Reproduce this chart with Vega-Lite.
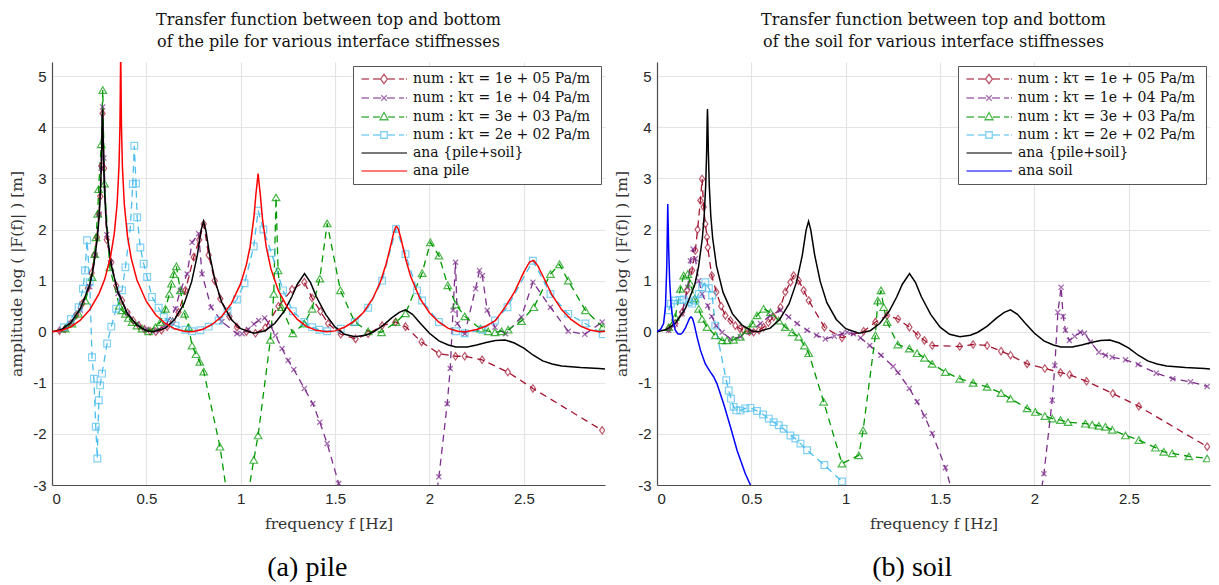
{
"$schema": "https://vega.github.io/schema/vega-lite/v6.json",
"background": "white",
"padding": {"left": 9, "right": 2, "top": 12, "bottom": 0},
"spacing": 9,
"config": {
  "view": {"stroke": null},
  "font": "DejaVu Serif",
  "axis": {"grid": true, "gridColor": "#e4e4e4", "gridWidth": 1.2, "domainColor": "#4d4d4d", "domainWidth": 1.2, "ticks": false, "labelFont": "Liberation Sans", "labelFontSize": 15, "labelColor": "#262626", "labelPadding": 6, "titleFont": "DejaVu Serif", "titleFontSize": 15.5, "titleFontWeight": "normal", "titleColor": "#333"},
  "title": {"font": "DejaVu Serif", "fontSize": 16, "fontWeight": "normal", "color": "#111", "lineHeight": 22, "offset": 12},
  "legend": {"padding": 6, "offset": 4, "fillColor": "white", "strokeColor": "#555", "cornerRadius": 0, "labelFont": "DejaVu Serif", "labelFontSize": 14, "labelLimit": 400, "labelColor": "#111", "rowPadding": 4, "symbolSize": 100, "symbolOffset": 18, "labelOffset": 22, "symbolStrokeWidth": 1.3, "symbolFillColor": "transparent"}
},
"resolve": {"scale": {"color": "independent", "shape": "independent"}, "legend": {"color": "independent", "shape": "independent"}},
"datasets": {
"pile": [
{"s":"k1","f":0.04,"v":0.02},{"s":"k1","f":0.07,"v":0.06},{"s":"k1","f":0.1,"v":0.16},{"s":"k1","f":0.13,"v":0.33},{"s":"k1","f":0.16,"v":0.55},{"s":"k1","f":0.19,"v":0.85},{"s":"k1","f":0.21,"v":1.15},{"s":"k1","f":0.225,"v":1.5},{"s":"k1","f":0.238,"v":1.85},{"s":"k1","f":0.248,"v":2.3},{"s":"k1","f":0.256,"v":2.65},{"s":"k1","f":0.262,"v":3.25},{"s":"k1","f":0.268,"v":4.27},{"s":"k1","f":0.276,"v":3.2},{"s":"k1","f":0.29,"v":1.8},{"s":"k1","f":0.314,"v":1.36},{"s":"k1","f":0.34,"v":0.9},{"s":"k1","f":0.371,"v":0.61},{"s":"k1","f":0.4,"v":0.37},{"s":"k1","f":0.43,"v":0.22},{"s":"k1","f":0.46,"v":0.12},{"s":"k1","f":0.49,"v":0.05},{"s":"k1","f":0.52,"v":0.01},{"s":"k1","f":0.55,"v":0.0},{"s":"k1","f":0.58,"v":0.03},{"s":"k1","f":0.61,"v":0.1},{"s":"k1","f":0.64,"v":0.2},{"s":"k1","f":0.67,"v":0.38},{"s":"k1","f":0.707,"v":0.81},{"s":"k1","f":0.751,"v":1.46},{"s":"k1","f":0.78,"v":1.8},{"s":"k1","f":0.804,"v":2.11},{"s":"k1","f":0.83,"v":1.5},{"s":"k1","f":0.862,"v":1.0},{"s":"k1","f":0.892,"v":0.645},{"s":"k1","f":0.94,"v":0.3},{"s":"k1","f":0.98,"v":0.09},{"s":"k1","f":1.03,"v":0.0},{"s":"k1","f":1.078,"v":-0.03},{"s":"k1","f":1.13,"v":0.08},{"s":"k1","f":1.2,"v":0.5},{"s":"k1","f":1.272,"v":0.83},{"s":"k1","f":1.337,"v":0.97},{"s":"k1","f":1.378,"v":0.66},{"s":"k1","f":1.422,"v":0.4},{"s":"k1","f":1.463,"v":0.16},{"s":"k1","f":1.53,"v":-0.05},{"s":"k1","f":1.608,"v":-0.14},{"s":"k1","f":1.675,"v":-0.04},{"s":"k1","f":1.749,"v":0.12},{"s":"k1","f":1.82,"v":0.19},{"s":"k1","f":1.873,"v":0.1},{"s":"k1","f":1.958,"v":-0.2},{"s":"k1","f":2.05,"v":-0.43},{"s":"k1","f":2.138,"v":-0.48},{"s":"k1","f":2.187,"v":-0.48},{"s":"k1","f":2.279,"v":-0.55},{"s":"k1","f":2.415,"v":-0.79},{"s":"k1","f":2.548,"v":-1.11},{"s":"k1","f":2.915,"v":-1.93},
{"s":"k2","f":0.05,"v":0.03},{"s":"k2","f":0.1,"v":0.16},{"s":"k2","f":0.15,"v":0.42},{"s":"k2","f":0.2,"v":0.88},{"s":"k2","f":0.23,"v":1.5},{"s":"k2","f":0.25,"v":2.3},{"s":"k2","f":0.26,"v":3.2},{"s":"k2","f":0.268,"v":4.4},{"s":"k2","f":0.275,"v":3.4},{"s":"k2","f":0.29,"v":1.9},{"s":"k2","f":0.31,"v":1.35},{"s":"k2","f":0.35,"v":0.75},{"s":"k2","f":0.4,"v":0.36},{"s":"k2","f":0.45,"v":0.15},{"s":"k2","f":0.5,"v":0.05},{"s":"k2","f":0.55,"v":0.02},{"s":"k2","f":0.6,"v":0.12},{"s":"k2","f":0.654,"v":0.45},{"s":"k2","f":0.68,"v":0.81},{"s":"k2","f":0.716,"v":1.13},{"s":"k2","f":0.742,"v":1.75},{"s":"k2","f":0.777,"v":1.92},{"s":"k2","f":0.795,"v":1.13},{"s":"k2","f":0.843,"v":0.48},{"s":"k2","f":0.9,"v":0.2},{"s":"k2","f":0.98,"v":-0.04},{"s":"k2","f":1.007,"v":-0.04},{"s":"k2","f":1.04,"v":0.05},{"s":"k2","f":1.07,"v":0.15},{"s":"k2","f":1.095,"v":0.22},{"s":"k2","f":1.127,"v":0.27},{"s":"k2","f":1.157,"v":0.12},{"s":"k2","f":1.184,"v":-0.07},{"s":"k2","f":1.219,"v":-0.33},{"s":"k2","f":1.251,"v":-0.56},{"s":"k2","f":1.281,"v":-0.74},{"s":"k2","f":1.337,"v":-1.11},{"s":"k2","f":1.382,"v":-1.41},{"s":"k2","f":1.419,"v":-1.77},{"s":"k2","f":1.458,"v":-2.19},{"s":"k2","f":1.519,"v":-2.97},{"s":"k2","f":1.6,"v":-4.0},{"s":"k2","f":2.0,"v":-4.2},{"s":"k2","f":2.05,"v":-2.84},{"s":"k2","f":2.094,"v":-1.41},{"s":"k2","f":2.11,"v":-0.72},{"s":"k2","f":2.125,"v":0.42},{"s":"k2","f":2.138,"v":1.36},{"s":"k2","f":2.148,"v":0.16},{"s":"k2","f":2.187,"v":-0.04},{"s":"k2","f":2.244,"v":0.84},{"s":"k2","f":2.265,"v":1.2},{"s":"k2","f":2.28,"v":1.1},{"s":"k2","f":2.306,"v":0.42},{"s":"k2","f":2.347,"v":0.09},{"s":"k2","f":2.403,"v":-0.04},{"s":"k2","f":2.487,"v":0.29},{"s":"k2","f":2.548,"v":0.97},{"s":"k2","f":2.641,"v":0.48},{"s":"k2","f":2.735,"v":0.01},{"s":"k2","f":2.823,"v":-0.05},{"s":"k2","f":2.915,"v":0.19},
{"s":"k3","f":0.07,"v":0.06},{"s":"k3","f":0.106,"v":0.16},{"s":"k3","f":0.141,"v":0.35},{"s":"k3","f":0.177,"v":0.61},{"s":"k3","f":0.212,"v":1.07},{"s":"k3","f":0.226,"v":1.52},{"s":"k3","f":0.233,"v":1.85},{"s":"k3","f":0.242,"v":2.31},{"s":"k3","f":0.247,"v":2.79},{"s":"k3","f":0.261,"v":3.67},{"s":"k3","f":0.269,"v":4.73},{"s":"k3","f":0.278,"v":2.9},{"s":"k3","f":0.306,"v":1.26},{"s":"k3","f":0.357,"v":0.51},{"s":"k3","f":0.37,"v":0.42},{"s":"k3","f":0.389,"v":0.35},{"s":"k3","f":0.405,"v":0.27},{"s":"k3","f":0.424,"v":0.19},{"s":"k3","f":0.45,"v":0.12},{"s":"k3","f":0.477,"v":0.06},{"s":"k3","f":0.512,"v":0.01},{"s":"k3","f":0.548,"v":0.09},{"s":"k3","f":0.574,"v":0.19},{"s":"k3","f":0.601,"v":0.45},{"s":"k3","f":0.622,"v":0.74},{"s":"k3","f":0.633,"v":0.94},{"s":"k3","f":0.645,"v":1.13},{"s":"k3","f":0.659,"v":1.28},{"s":"k3","f":0.68,"v":0.81},{"s":"k3","f":0.703,"v":0.35},{"s":"k3","f":0.724,"v":0.09},{"s":"k3","f":0.742,"v":-0.27},{"s":"k3","f":0.763,"v":-0.44},{"s":"k3","f":0.783,"v":-0.59},{"s":"k3","f":0.804,"v":-0.78},{"s":"k3","f":0.89,"v":-2.25},{"s":"k3","f":0.98,"v":-4.5},{"s":"k3","f":1.069,"v":-2.51},{"s":"k3","f":1.092,"v":-2.03},{"s":"k3","f":1.157,"v":-0.16},{"s":"k3","f":1.175,"v":0.74},{"s":"k3","f":1.187,"v":2.63},{"s":"k3","f":1.198,"v":1.2},{"s":"k3","f":1.216,"v":0.48},{"s":"k3","f":1.276,"v":-0.03},{"s":"k3","f":1.337,"v":0.16},{"s":"k3","f":1.378,"v":0.45},{"s":"k3","f":1.419,"v":1.04},{"s":"k3","f":1.458,"v":2.12},{"s":"k3","f":1.528,"v":0.81},{"s":"k3","f":1.604,"v":0.19},{"s":"k3","f":1.675,"v":0.01},{"s":"k3","f":1.746,"v":-0.01},{"s":"k3","f":1.823,"v":0.19},{"s":"k3","f":1.873,"v":0.36},{"s":"k3","f":1.961,"v":1.15},{"s":"k3","f":2.005,"v":1.75},{"s":"k3","f":2.05,"v":1.49},{"s":"k3","f":2.097,"v":0.91},{"s":"k3","f":2.141,"v":0.53},{"s":"k3","f":2.187,"v":0.3},{"s":"k3","f":2.27,"v":0.06},{"s":"k3","f":2.311,"v":0.01},{"s":"k3","f":2.347,"v":-0.01},{"s":"k3","f":2.382,"v":0.01},{"s":"k3","f":2.417,"v":0.04},{"s":"k3","f":2.487,"v":0.21},{"s":"k3","f":2.553,"v":0.48},{"s":"k3","f":2.641,"v":1.13},{"s":"k3","f":2.689,"v":1.32},{"s":"k3","f":2.735,"v":1.0},{"s":"k3","f":2.826,"v":0.42},{"s":"k3","f":2.918,"v":0.09},
{"s":"k4","f":0.062,"v":0.09},{"s":"k4","f":0.1,"v":0.25},{"s":"k4","f":0.141,"v":0.48},{"s":"k4","f":0.164,"v":0.84},{"s":"k4","f":0.175,"v":1.2},{"s":"k4","f":0.186,"v":1.79},{"s":"k4","f":0.2,"v":0.97},{"s":"k4","f":0.212,"v":-0.5},{"s":"k4","f":0.222,"v":-0.92},{"s":"k4","f":0.232,"v":-1.86},{"s":"k4","f":0.24,"v":-2.48},{"s":"k4","f":0.248,"v":-1.34},{"s":"k4","f":0.255,"v":-1.05},{"s":"k4","f":0.265,"v":-0.82},{"s":"k4","f":0.292,"v":-0.23},{"s":"k4","f":0.314,"v":0.1},{"s":"k4","f":0.34,"v":0.45},{"s":"k4","f":0.371,"v":0.81},{"s":"k4","f":0.389,"v":1.26},{"s":"k4","f":0.415,"v":2.05},{"s":"k4","f":0.428,"v":2.89},{"s":"k4","f":0.436,"v":3.64},{"s":"k4","f":0.445,"v":2.9},{"s":"k4","f":0.451,"v":2.24},{"s":"k4","f":0.468,"v":1.65},{"s":"k4","f":0.486,"v":1.33},{"s":"k4","f":0.504,"v":1.07},{"s":"k4","f":0.53,"v":0.68},{"s":"k4","f":0.565,"v":0.47},{"s":"k4","f":0.592,"v":0.29},{"s":"k4","f":0.622,"v":0.19},{"s":"k4","f":0.654,"v":0.12},{"s":"k4","f":0.707,"v":0.04},{"s":"k4","f":0.742,"v":0.01},{"s":"k4","f":0.786,"v":0.03},{"s":"k4","f":0.83,"v":0.1},{"s":"k4","f":0.883,"v":0.22},{"s":"k4","f":0.93,"v":0.4},{"s":"k4","f":0.98,"v":0.63},{"s":"k4","f":1.02,"v":0.95},{"s":"k4","f":1.069,"v":1.67},{"s":"k4","f":1.092,"v":2.37},{"s":"k4","f":1.12,"v":2.0},{"s":"k4","f":1.163,"v":1.54},{"s":"k4","f":1.224,"v":0.81},{"s":"k4","f":1.276,"v":0.4},{"s":"k4","f":1.337,"v":0.19},{"s":"k4","f":1.378,"v":0.09},{"s":"k4","f":1.417,"v":0.04},{"s":"k4","f":1.458,"v":0.01},{"s":"k4","f":1.53,"v":0.06},{"s":"k4","f":1.604,"v":0.19},{"s":"k4","f":1.675,"v":0.47},{"s":"k4","f":1.749,"v":1.0},{"s":"k4","f":1.823,"v":2.01},{"s":"k4","f":1.873,"v":1.52},{"s":"k4","f":1.934,"v":0.81},{"s":"k4","f":1.961,"v":0.61},{"s":"k4","f":2.05,"v":0.19},{"s":"k4","f":2.141,"v":0.01},{"s":"k4","f":2.187,"v":-0.03},{"s":"k4","f":2.279,"v":0.04},{"s":"k4","f":2.347,"v":0.22},{"s":"k4","f":2.413,"v":0.48},{"s":"k4","f":2.548,"v":1.39},{"s":"k4","f":2.641,"v":0.74},{"s":"k4","f":2.735,"v":0.35},{"s":"k4","f":2.826,"v":0.16},{"s":"k4","f":2.918,"v":-0.05},
{"s":"ana","f":0,"v":0},{"s":"ana","f":0.05,"v":0.044},{"s":"ana","f":0.1,"v":0.18},{"s":"ana","f":0.15,"v":0.45},{"s":"ana","f":0.2,"v":0.92},{"s":"ana","f":0.22,"v":1.27},{"s":"ana","f":0.24,"v":1.82},{"s":"ana","f":0.25,"v":2.27},{"s":"ana","f":0.258,"v":2.86},{"s":"ana","f":0.263,"v":3.52},{"s":"ana","f":0.266,"v":4.16},{"s":"ana","f":0.2675,"v":4.36},{"s":"ana","f":0.269,"v":4.16},{"s":"ana","f":0.272,"v":3.53},{"s":"ana","f":0.277,"v":2.86},{"s":"ana","f":0.285,"v":2.27},{"s":"ana","f":0.295,"v":1.83},{"s":"ana","f":0.315,"v":1.29},{"s":"ana","f":0.35,"v":0.77},{"s":"ana","f":0.4,"v":0.35},{"s":"ana","f":0.45,"v":0.13},{"s":"ana","f":0.5,"v":0.02},{"s":"ana","f":0.535,"v":0},{"s":"ana","f":0.6,"v":0.07},{"s":"ana","f":0.65,"v":0.24},{"s":"ana","f":0.7,"v":0.55},{"s":"ana","f":0.74,"v":0.98},{"s":"ana","f":0.77,"v":1.5},{"s":"ana","f":0.79,"v":1.99},{"s":"ana","f":0.803,"v":2.16},{"s":"ana","f":0.815,"v":1.99},{"s":"ana","f":0.835,"v":1.51},{"s":"ana","f":0.865,"v":0.98},{"s":"ana","f":0.9,"v":0.57},{"s":"ana","f":0.95,"v":0.24},{"s":"ana","f":1.0,"v":0.06},{"s":"ana","f":1.07,"v":-0.03},{"s":"ana","f":1.13,"v":0.02},{"s":"ana","f":1.18,"v":0.16},{"s":"ana","f":1.23,"v":0.4},{"s":"ana","f":1.27,"v":0.68},{"s":"ana","f":1.3,"v":0.93},{"s":"ana","f":1.338,"v":1.14},{"s":"ana","f":1.37,"v":0.96},{"s":"ana","f":1.4,"v":0.69},{"s":"ana","f":1.45,"v":0.34},{"s":"ana","f":1.5,"v":0.09},{"s":"ana","f":1.55,"v":-0.05},{"s":"ana","f":1.605,"v":-0.1},{"s":"ana","f":1.66,"v":-0.07},{"s":"ana","f":1.7,"v":-0.01},{"s":"ana","f":1.75,"v":0.11},{"s":"ana","f":1.8,"v":0.27},{"s":"ana","f":1.84,"v":0.38},{"s":"ana","f":1.873,"v":0.43},{"s":"ana","f":1.91,"v":0.34},{"s":"ana","f":1.95,"v":0.17},{"s":"ana","f":2.0,"v":-0.03},{"s":"ana","f":2.05,"v":-0.18},{"s":"ana","f":2.1,"v":-0.26},{"s":"ana","f":2.14,"v":-0.3},{"s":"ana","f":2.2,"v":-0.3},{"s":"ana","f":2.25,"v":-0.26},{"s":"ana","f":2.3,"v":-0.21},{"s":"ana","f":2.35,"v":-0.17},{"s":"ana","f":2.4,"v":-0.16},{"s":"ana","f":2.45,"v":-0.22},{"s":"ana","f":2.5,"v":-0.32},{"s":"ana","f":2.55,"v":-0.46},{"s":"ana","f":2.6,"v":-0.57},{"s":"ana","f":2.65,"v":-0.63},{"s":"ana","f":2.7,"v":-0.67},{"s":"ana","f":2.8,"v":-0.7},{"s":"ana","f":2.9,"v":-0.72},{"s":"ana","f":2.93,"v":-0.73},
{"s":"pile","f":0,"v":0},{"s":"pile","f":0.05,"v":0.023},{"s":"pile","f":0.1,"v":0.096},{"s":"pile","f":0.15,"v":0.226},{"s":"pile","f":0.2,"v":0.431},{"s":"pile","f":0.25,"v":0.752},{"s":"pile","f":0.28,"v":1.036},{"s":"pile","f":0.31,"v":1.466},{"s":"pile","f":0.33,"v":1.921},{"s":"pile","f":0.345,"v":2.5},{"s":"pile","f":0.355,"v":3.24},{"s":"pile","f":0.36,"v":4.01},{"s":"pile","f":0.364,"v":5.5},{"s":"pile","f":0.368,"v":4.03},{"s":"pile","f":0.373,"v":3.24},{"s":"pile","f":0.383,"v":2.5},{"s":"pile","f":0.4,"v":1.866},{"s":"pile","f":0.42,"v":1.431},{"s":"pile","f":0.45,"v":1.014},{"s":"pile","f":0.5,"v":0.593},{"s":"pile","f":0.55,"v":0.329},{"s":"pile","f":0.6,"v":0.162},{"s":"pile","f":0.65,"v":0.057},{"s":"pile","f":0.7,"v":0.008},{"s":"pile","f":0.728,"v":0},{"s":"pile","f":0.75,"v":0.006},{"s":"pile","f":0.8,"v":0.049},{"s":"pile","f":0.85,"v":0.147},{"s":"pile","f":0.9,"v":0.304},{"s":"pile","f":0.95,"v":0.55},{"s":"pile","f":1.0,"v":0.947},{"s":"pile","f":1.03,"v":1.314},{"s":"pile","f":1.05,"v":1.674},{"s":"pile","f":1.07,"v":2.252},{"s":"pile","f":1.08,"v":2.676},{"s":"pile","f":1.092,"v":3.094},{"s":"pile","f":1.104,"v":2.67},{"s":"pile","f":1.115,"v":2.218},{"s":"pile","f":1.135,"v":1.665},{"s":"pile","f":1.16,"v":1.23},{"s":"pile","f":1.2,"v":0.8},{"s":"pile","f":1.25,"v":0.463},{"s":"pile","f":1.3,"v":0.241},{"s":"pile","f":1.35,"v":0.102},{"s":"pile","f":1.4,"v":0.027},{"s":"pile","f":1.456,"v":0},{"s":"pile","f":1.5,"v":0.017},{"s":"pile","f":1.55,"v":0.088},{"s":"pile","f":1.6,"v":0.204},{"s":"pile","f":1.65,"v":0.378},{"s":"pile","f":1.7,"v":0.651},{"s":"pile","f":1.74,"v":0.977},{"s":"pile","f":1.77,"v":1.32},{"s":"pile","f":1.795,"v":1.692},{"s":"pile","f":1.81,"v":1.936},{"s":"pile","f":1.82,"v":2.048},{"s":"pile","f":1.825,"v":2.06},{"s":"pile","f":1.835,"v":2.014},{"s":"pile","f":1.85,"v":1.806},{"s":"pile","f":1.875,"v":1.408},{"s":"pile","f":1.9,"v":1.087},{"s":"pile","f":1.95,"v":0.646},{"s":"pile","f":2.0,"v":0.371},{"s":"pile","f":2.05,"v":0.186},{"s":"pile","f":2.1,"v":0.066},{"s":"pile","f":2.15,"v":0.009},{"s":"pile","f":2.184,"v":0},{"s":"pile","f":2.2,"v":0.003},{"s":"pile","f":2.25,"v":0.043},{"s":"pile","f":2.3,"v":0.112},{"s":"pile","f":2.35,"v":0.219},{"s":"pile","f":2.4,"v":0.476},{"s":"pile","f":2.45,"v":0.775},{"s":"pile","f":2.5,"v":1.168},{"s":"pile","f":2.53,"v":1.365},{"s":"pile","f":2.552,"v":1.396},{"s":"pile","f":2.575,"v":1.285},{"s":"pile","f":2.6,"v":1.096},{"s":"pile","f":2.65,"v":0.715},{"s":"pile","f":2.7,"v":0.434},{"s":"pile","f":2.75,"v":0.24},{"s":"pile","f":2.8,"v":0.111},{"s":"pile","f":2.85,"v":0.033},{"s":"pile","f":2.9,"v":0.002},{"s":"pile","f":2.93,"v":0.01}
],
"soil": [
{"s":"k1","f":0.062,"v":0.06},{"s":"k1","f":0.097,"v":0.16},{"s":"k1","f":0.133,"v":0.38},{"s":"k1","f":0.159,"v":0.81},{"s":"k1","f":0.186,"v":1.2},{"s":"k1","f":0.203,"v":1.59},{"s":"k1","f":0.215,"v":2.0},{"s":"k1","f":0.23,"v":2.57},{"s":"k1","f":0.239,"v":2.99},{"s":"k1","f":0.247,"v":2.44},{"s":"k1","f":0.256,"v":2.11},{"s":"k1","f":0.265,"v":1.85},{"s":"k1","f":0.269,"v":1.65},{"s":"k1","f":0.29,"v":1.1},{"s":"k1","f":0.314,"v":0.78},{"s":"k1","f":0.34,"v":0.5},{"s":"k1","f":0.362,"v":0.32},{"s":"k1","f":0.389,"v":0.22},{"s":"k1","f":0.415,"v":0.12},{"s":"k1","f":0.44,"v":0.06},{"s":"k1","f":0.459,"v":0.03},{"s":"k1","f":0.49,"v":0.0},{"s":"k1","f":0.512,"v":-0.01},{"s":"k1","f":0.54,"v":0.03},{"s":"k1","f":0.565,"v":0.09},{"s":"k1","f":0.59,"v":0.18},{"s":"k1","f":0.618,"v":0.29},{"s":"k1","f":0.654,"v":0.48},{"s":"k1","f":0.68,"v":0.78},{"s":"k1","f":0.707,"v":0.97},{"s":"k1","f":0.724,"v":1.1},{"s":"k1","f":0.751,"v":1.0},{"s":"k1","f":0.777,"v":0.81},{"s":"k1","f":0.804,"v":0.61},{"s":"k1","f":0.887,"v":0.09},{"s":"k1","f":0.98,"v":-0.12},{"s":"k1","f":1.095,"v":0.01},{"s":"k1","f":1.157,"v":0.19},{"s":"k1","f":1.219,"v":0.32},{"s":"k1","f":1.277,"v":0.25},{"s":"k1","f":1.337,"v":0.09},{"s":"k1","f":1.382,"v":-0.07},{"s":"k1","f":1.417,"v":-0.17},{"s":"k1","f":1.458,"v":-0.27},{"s":"k1","f":1.604,"v":-0.29},{"s":"k1","f":1.675,"v":-0.25},{"s":"k1","f":1.749,"v":-0.27},{"s":"k1","f":1.823,"v":-0.38},{"s":"k1","f":1.873,"v":-0.46},{"s":"k1","f":1.961,"v":-0.63},{"s":"k1","f":2.055,"v":-0.72},{"s":"k1","f":2.138,"v":-0.8},{"s":"k1","f":2.186,"v":-0.84},{"s":"k1","f":2.276,"v":-0.97},{"s":"k1","f":2.415,"v":-1.21},{"s":"k1","f":2.553,"v":-1.46},{"s":"k1","f":2.915,"v":-2.25},
{"s":"k2","f":0.062,"v":0.03},{"s":"k2","f":0.097,"v":0.15},{"s":"k2","f":0.133,"v":0.35},{"s":"k2","f":0.163,"v":0.87},{"s":"k2","f":0.177,"v":1.39},{"s":"k2","f":0.191,"v":1.62},{"s":"k2","f":0.203,"v":1.43},{"s":"k2","f":0.221,"v":1.0},{"s":"k2","f":0.239,"v":0.74},{"s":"k2","f":0.269,"v":0.51},{"s":"k2","f":0.29,"v":0.3},{"s":"k2","f":0.314,"v":0.12},{"s":"k2","f":0.345,"v":-0.01},{"s":"k2","f":0.389,"v":-0.14},{"s":"k2","f":0.442,"v":-0.1},{"s":"k2","f":0.495,"v":-0.01},{"s":"k2","f":0.548,"v":0.16},{"s":"k2","f":0.601,"v":0.32},{"s":"k2","f":0.654,"v":0.42},{"s":"k2","f":0.698,"v":0.29},{"s":"k2","f":0.742,"v":0.16},{"s":"k2","f":0.795,"v":0.03},{"s":"k2","f":0.845,"v":-0.07},{"s":"k2","f":0.892,"v":-0.14},{"s":"k2","f":0.94,"v":-0.09},{"s":"k2","f":0.98,"v":-0.04},{"s":"k2","f":1.007,"v":-0.01},{"s":"k2","f":1.04,"v":-0.04},{"s":"k2","f":1.078,"v":-0.12},{"s":"k2","f":1.127,"v":-0.27},{"s":"k2","f":1.187,"v":-0.46},{"s":"k2","f":1.251,"v":-0.68},{"s":"k2","f":1.277,"v":-0.8},{"s":"k2","f":1.337,"v":-1.11},{"s":"k2","f":1.378,"v":-1.37},{"s":"k2","f":1.417,"v":-1.65},{"s":"k2","f":1.458,"v":-1.99},{"s":"k2","f":1.528,"v":-2.66},{"s":"k2","f":1.6,"v":-3.6},{"s":"k2","f":2.0,"v":-4.0},{"s":"k2","f":2.05,"v":-2.78},{"s":"k2","f":2.094,"v":-1.34},{"s":"k2","f":2.108,"v":-0.66},{"s":"k2","f":2.124,"v":0.38},{"s":"k2","f":2.141,"v":0.87},{"s":"k2","f":2.152,"v":0.3},{"s":"k2","f":2.164,"v":0.03},{"s":"k2","f":2.185,"v":-0.17},{"s":"k2","f":2.213,"v":-0.09},{"s":"k2","f":2.243,"v":-0.01},{"s":"k2","f":2.265,"v":-0.03},{"s":"k2","f":2.297,"v":-0.2},{"s":"k2","f":2.341,"v":-0.4},{"s":"k2","f":2.376,"v":-0.46},{"s":"k2","f":2.412,"v":-0.5},{"s":"k2","f":2.482,"v":-0.55},{"s":"k2","f":2.549,"v":-0.64},{"s":"k2","f":2.645,"v":-0.81},{"s":"k2","f":2.733,"v":-0.92},{"s":"k2","f":2.827,"v":-0.98},{"s":"k2","f":2.915,"v":-1.07},
{"s":"k3","f":0.062,"v":0.09},{"s":"k3","f":0.097,"v":0.29},{"s":"k3","f":0.124,"v":0.84},{"s":"k3","f":0.141,"v":1.1},{"s":"k3","f":0.163,"v":1.13},{"s":"k3","f":0.177,"v":0.94},{"s":"k3","f":0.2,"v":0.65},{"s":"k3","f":0.221,"v":0.45},{"s":"k3","f":0.239,"v":0.25},{"s":"k3","f":0.265,"v":0.09},{"s":"k3","f":0.309,"v":-0.07},{"s":"k3","f":0.345,"v":-0.17},{"s":"k3","f":0.371,"v":-0.17},{"s":"k3","f":0.406,"v":-0.16},{"s":"k3","f":0.442,"v":-0.1},{"s":"k3","f":0.477,"v":0.03},{"s":"k3","f":0.504,"v":0.16},{"s":"k3","f":0.53,"v":0.32},{"s":"k3","f":0.565,"v":0.45},{"s":"k3","f":0.601,"v":0.38},{"s":"k3","f":0.645,"v":0.22},{"s":"k3","f":0.68,"v":0.09},{"s":"k3","f":0.716,"v":-0.01},{"s":"k3","f":0.751,"v":-0.1},{"s":"k3","f":0.781,"v":-0.27},{"s":"k3","f":0.804,"v":-0.42},{"s":"k3","f":0.883,"v":-1.37},{"s":"k3","f":0.98,"v":-2.58},{"s":"k3","f":1.069,"v":-2.42},{"s":"k3","f":1.092,"v":-1.93},{"s":"k3","f":1.157,"v":-0.07},{"s":"k3","f":1.17,"v":0.61},{"s":"k3","f":1.187,"v":0.81},{"s":"k3","f":1.201,"v":0.48},{"s":"k3","f":1.219,"v":0.19},{"s":"k3","f":1.276,"v":-0.25},{"s":"k3","f":1.337,"v":-0.33},{"s":"k3","f":1.378,"v":-0.42},{"s":"k3","f":1.417,"v":-0.51},{"s":"k3","f":1.458,"v":-0.63},{"s":"k3","f":1.528,"v":-0.79},{"s":"k3","f":1.604,"v":-0.92},{"s":"k3","f":1.675,"v":-1.0},{"s":"k3","f":1.749,"v":-1.08},{"s":"k3","f":1.823,"v":-1.2},{"s":"k3","f":1.873,"v":-1.31},{"s":"k3","f":1.961,"v":-1.5},{"s":"k3","f":2.005,"v":-1.57},{"s":"k3","f":2.055,"v":-1.65},{"s":"k3","f":2.094,"v":-1.7},{"s":"k3","f":2.138,"v":-1.73},{"s":"k3","f":2.178,"v":-1.77},{"s":"k3","f":2.27,"v":-1.8},{"s":"k3","f":2.306,"v":-1.82},{"s":"k3","f":2.341,"v":-1.84},{"s":"k3","f":2.376,"v":-1.86},{"s":"k3","f":2.412,"v":-1.92},{"s":"k3","f":2.482,"v":-2.03},{"s":"k3","f":2.553,"v":-2.12},{"s":"k3","f":2.641,"v":-2.27},{"s":"k3","f":2.685,"v":-2.35},{"s":"k3","f":2.73,"v":-2.38},{"s":"k3","f":2.818,"v":-2.44},{"s":"k3","f":2.915,"v":-2.48},
{"s":"k4","f":0.062,"v":0.42},{"s":"k4","f":0.074,"v":0.55},{"s":"k4","f":0.097,"v":0.61},{"s":"k4","f":0.12,"v":0.62},{"s":"k4","f":0.141,"v":0.63},{"s":"k4","f":0.168,"v":0.58},{"s":"k4","f":0.186,"v":0.55},{"s":"k4","f":0.203,"v":0.61},{"s":"k4","f":0.221,"v":0.74},{"s":"k4","f":0.239,"v":0.87},{"s":"k4","f":0.256,"v":0.97},{"s":"k4","f":0.275,"v":0.85},{"s":"k4","f":0.292,"v":0.71},{"s":"k4","f":0.309,"v":0.12},{"s":"k4","f":0.367,"v":-0.95},{"s":"k4","f":0.38,"v":-1.15},{"s":"k4","f":0.392,"v":-1.31},{"s":"k4","f":0.406,"v":-1.47},{"s":"k4","f":0.42,"v":-1.54},{"s":"k4","f":0.442,"v":-1.54},{"s":"k4","f":0.468,"v":-1.5},{"s":"k4","f":0.495,"v":-1.49},{"s":"k4","f":0.53,"v":-1.55},{"s":"k4","f":0.562,"v":-1.62},{"s":"k4","f":0.592,"v":-1.7},{"s":"k4","f":0.618,"v":-1.77},{"s":"k4","f":0.645,"v":-1.83},{"s":"k4","f":0.671,"v":-1.9},{"s":"k4","f":0.707,"v":-2.03},{"s":"k4","f":0.733,"v":-2.09},{"s":"k4","f":0.76,"v":-2.19},{"s":"k4","f":0.795,"v":-2.32},{"s":"k4","f":0.887,"v":-2.61},{"s":"k4","f":0.98,"v":-2.93},
{"s":"ana","f":0,"v":0},{"s":"ana","f":0.05,"v":0.044},{"s":"ana","f":0.1,"v":0.18},{"s":"ana","f":0.15,"v":0.45},{"s":"ana","f":0.2,"v":0.92},{"s":"ana","f":0.22,"v":1.27},{"s":"ana","f":0.24,"v":1.82},{"s":"ana","f":0.25,"v":2.27},{"s":"ana","f":0.258,"v":2.86},{"s":"ana","f":0.263,"v":3.52},{"s":"ana","f":0.266,"v":4.16},{"s":"ana","f":0.2675,"v":4.36},{"s":"ana","f":0.269,"v":4.16},{"s":"ana","f":0.272,"v":3.53},{"s":"ana","f":0.277,"v":2.86},{"s":"ana","f":0.285,"v":2.27},{"s":"ana","f":0.295,"v":1.83},{"s":"ana","f":0.315,"v":1.29},{"s":"ana","f":0.35,"v":0.77},{"s":"ana","f":0.4,"v":0.35},{"s":"ana","f":0.45,"v":0.13},{"s":"ana","f":0.5,"v":0.02},{"s":"ana","f":0.535,"v":0},{"s":"ana","f":0.6,"v":0.07},{"s":"ana","f":0.65,"v":0.24},{"s":"ana","f":0.7,"v":0.55},{"s":"ana","f":0.74,"v":0.98},{"s":"ana","f":0.77,"v":1.5},{"s":"ana","f":0.79,"v":1.99},{"s":"ana","f":0.803,"v":2.16},{"s":"ana","f":0.815,"v":1.99},{"s":"ana","f":0.835,"v":1.51},{"s":"ana","f":0.865,"v":0.98},{"s":"ana","f":0.9,"v":0.57},{"s":"ana","f":0.95,"v":0.24},{"s":"ana","f":1.0,"v":0.06},{"s":"ana","f":1.07,"v":-0.03},{"s":"ana","f":1.13,"v":0.02},{"s":"ana","f":1.18,"v":0.16},{"s":"ana","f":1.23,"v":0.4},{"s":"ana","f":1.27,"v":0.68},{"s":"ana","f":1.3,"v":0.93},{"s":"ana","f":1.338,"v":1.14},{"s":"ana","f":1.37,"v":0.96},{"s":"ana","f":1.4,"v":0.69},{"s":"ana","f":1.45,"v":0.34},{"s":"ana","f":1.5,"v":0.09},{"s":"ana","f":1.55,"v":-0.05},{"s":"ana","f":1.605,"v":-0.1},{"s":"ana","f":1.66,"v":-0.07},{"s":"ana","f":1.7,"v":-0.01},{"s":"ana","f":1.75,"v":0.11},{"s":"ana","f":1.8,"v":0.27},{"s":"ana","f":1.84,"v":0.38},{"s":"ana","f":1.873,"v":0.43},{"s":"ana","f":1.91,"v":0.34},{"s":"ana","f":1.95,"v":0.17},{"s":"ana","f":2.0,"v":-0.03},{"s":"ana","f":2.05,"v":-0.18},{"s":"ana","f":2.1,"v":-0.26},{"s":"ana","f":2.14,"v":-0.3},{"s":"ana","f":2.2,"v":-0.3},{"s":"ana","f":2.25,"v":-0.26},{"s":"ana","f":2.3,"v":-0.21},{"s":"ana","f":2.35,"v":-0.17},{"s":"ana","f":2.4,"v":-0.16},{"s":"ana","f":2.45,"v":-0.22},{"s":"ana","f":2.5,"v":-0.32},{"s":"ana","f":2.55,"v":-0.46},{"s":"ana","f":2.6,"v":-0.57},{"s":"ana","f":2.65,"v":-0.63},{"s":"ana","f":2.7,"v":-0.67},{"s":"ana","f":2.8,"v":-0.7},{"s":"ana","f":2.9,"v":-0.72},{"s":"ana","f":2.93,"v":-0.73},
{"s":"soil","f":0,"v":0},{"s":"soil","f":0.02,"v":0.05},{"s":"soil","f":0.035,"v":0.16},{"s":"soil","f":0.045,"v":0.5},{"s":"soil","f":0.052,"v":1.3},{"s":"soil","f":0.057,"v":2.5},{"s":"soil","f":0.062,"v":1.6},{"s":"soil","f":0.067,"v":1.0},{"s":"soil","f":0.075,"v":0.5},{"s":"soil","f":0.085,"v":0.2},{"s":"soil","f":0.097,"v":0.03},{"s":"soil","f":0.11,"v":-0.04},{"s":"soil","f":0.124,"v":-0.05},{"s":"soil","f":0.135,"v":-0.02},{"s":"soil","f":0.15,"v":0.07},{"s":"soil","f":0.163,"v":0.18},{"s":"soil","f":0.172,"v":0.26},{"s":"soil","f":0.18,"v":0.29},{"s":"soil","f":0.188,"v":0.26},{"s":"soil","f":0.197,"v":0.15},{"s":"soil","f":0.212,"v":-0.1},{"s":"soil","f":0.23,"v":-0.36},{"s":"soil","f":0.256,"v":-0.63},{"s":"soil","f":0.283,"v":-0.79},{"s":"soil","f":0.3,"v":-0.88},{"s":"soil","f":0.318,"v":-1.02},{"s":"soil","f":0.353,"v":-1.41},{"s":"soil","f":0.389,"v":-1.86},{"s":"soil","f":0.424,"v":-2.32},{"s":"soil","f":0.468,"v":-2.78},{"s":"soil","f":0.495,"v":-3.0},{"s":"soil","f":0.52,"v":-3.3}
]
},
"hconcat": [
{
 "title": {"text": "(a) pile", "orient": "bottom", "fontSize": 28, "font": "Liberation Serif", "color": "#000", "offset": 22, "anchor": "middle"},
 "resolve": {"scale": {"color": "independent", "shape": "independent"}, "legend": {"color": "independent", "shape": "independent"}},
 "vconcat": [{
  "width": 553, "height": 423,
  "title": {"text": ["Transfer function between top and bottom", "of the pile for various interface stiffnesses"], "anchor": "middle"},
  "data": {"name": "pile"},
  "encoding": {
    "x": {"field": "f", "type": "quantitative", "scale": {"domain": [0, 2.93], "nice": false, "zero": false}, "axis": {"values": [0, 0.5, 1, 1.5, 2, 2.5], "labelExpr": "datum.value", "title": "frequency  f  [Hz]", "titlePadding": 10}},
    "y": {"field": "v", "type": "quantitative", "scale": {"domain": [-3, 5.28], "nice": false, "zero": false}, "axis": {"values": [-3, -2, -1, 0, 1, 2, 3, 4, 5], "labelExpr": "datum.value", "title": "amplitude  log ( |F(f)| )   [m]", "titlePadding": 8}},
    "color": {"field": "s", "type": "nominal", "scale": {"domain": ["k1", "k2", "k3", "k4", "ana", "pile"], "range": ["#A2142F", "#7E2F8E", "#009900", "#4DBEEE", "#000000", "#FF0000"]}, "legend": {"title": null, "orient": "top-right", "labelExpr": "datum.label == 'k1' ? 'num :  kτ = 1e + 05 Pa/m' : datum.label == 'k2' ? 'num :  kτ = 1e + 04 Pa/m' : datum.label == 'k3' ? 'num :  kτ = 3e + 03 Pa/m' : datum.label == 'k4' ? 'num :  kτ = 2e + 02 Pa/m' : datum.label == 'ana' ? 'ana {pile+soil}' : 'ana pile'"}}
  },
  "layer": [
    {"transform": [{"filter": "indexof(['k1','k2','k3','k4'], datum.s) >= 0"}], "mark": {"type": "line", "strokeDash": [7, 5], "strokeWidth": 1.3, "clip": true}},
    {"transform": [{"filter": "datum.s == 'k1'"}], "mark": {"type": "point", "shape": "M0,-1.15L0.8,0L0,1.15L-0.8,0Z", "filled": false, "size": 42, "strokeWidth": 1.2, "clip": true}},
    {"transform": [{"filter": "datum.s == 'k2'"}], "mark": {"type": "point", "shape": "M-1,-1L1,1M-1,1L1,-1", "filled": false, "size": 26, "strokeWidth": 1.3, "clip": true}},
    {"transform": [{"filter": "datum.s == 'k3'"}], "mark": {"type": "point", "shape": "triangle-up", "filled": false, "size": 58, "strokeWidth": 1.2, "clip": true}},
    {"transform": [{"filter": "datum.s == 'k4'"}], "mark": {"type": "point", "shape": "square", "filled": false, "size": 45, "strokeWidth": 1.2, "clip": true}},
    {"transform": [{"filter": "datum.s == 'ana' || datum.s == 'pile'"}], "mark": {"type": "line", "strokeWidth": 1.5, "clip": true}},
    {"transform": [{"filter": "datum.f < -1"}], "mark": {"type": "point", "filled": false},
     "encoding": {"shape": {"field": "s", "type": "nominal", "scale": {"domain": ["k1", "k2", "k3", "k4", "ana", "pile"], "range": ["M-4.5,0H-3M-2.2,0H-0.75M0,-0.95L0.7,0L0,0.95L-0.7,0ZM0.75,0H2.2M3,0H4M4.4,0H4.6", "M-4.5,0H-3M-2.2,0H-0.6M-0.55,-0.55L0.55,0.55M-0.55,0.55L0.55,-0.55M0.6,0H2.2M3,0H4M4.4,0H4.6", "M-4.5,0H-3M-2.2,0H-0.8M0,-0.9L0.8,0.55L-0.8,0.55ZM0.8,0H2.2M3,0H4M4.4,0H4.6", "M-4.5,0H-3M-2.2,0H-0.65M-0.65,-0.65H0.65V0.65H-0.65ZM0.65,0H2.2M3,0H4M4.4,0H4.6", "M-4.5,0H4.6", "M-4.5,0H4.6"]}, "legend": {"title": null, "orient": "top-right", "labelExpr": "datum.label == 'k1' ? 'num :  kτ = 1e + 05 Pa/m' : datum.label == 'k2' ? 'num :  kτ = 1e + 04 Pa/m' : datum.label == 'k3' ? 'num :  kτ = 3e + 03 Pa/m' : datum.label == 'k4' ? 'num :  kτ = 2e + 02 Pa/m' : datum.label == 'ana' ? 'ana {pile+soil}' : 'ana pile'"}}}}
  ]
 }]
},
{
 "title": {"text": "(b) soil", "orient": "bottom", "fontSize": 28, "font": "Liberation Serif", "color": "#000", "offset": 22, "anchor": "middle"},
 "resolve": {"scale": {"color": "independent", "shape": "independent"}, "legend": {"color": "independent", "shape": "independent"}},
 "vconcat": [{
  "width": 553, "height": 423,
  "title": {"text": ["Transfer function between top and bottom", "of the soil for various interface stiffnesses"], "anchor": "middle"},
  "data": {"name": "soil"},
  "encoding": {
    "x": {"field": "f", "type": "quantitative", "scale": {"domain": [0, 2.93], "nice": false, "zero": false}, "axis": {"values": [0, 0.5, 1, 1.5, 2, 2.5], "labelExpr": "datum.value", "title": "frequency  f  [Hz]", "titlePadding": 10}},
    "y": {"field": "v", "type": "quantitative", "scale": {"domain": [-3, 5.28], "nice": false, "zero": false}, "axis": {"values": [-3, -2, -1, 0, 1, 2, 3, 4, 5], "labelExpr": "datum.value", "title": "amplitude  log ( |F(f)| )   [m]", "titlePadding": 8}},
    "color": {"field": "s", "type": "nominal", "scale": {"domain": ["k1", "k2", "k3", "k4", "ana", "soil"], "range": ["#A2142F", "#7E2F8E", "#009900", "#4DBEEE", "#000000", "#0000FF"]}, "legend": {"title": null, "orient": "top-right", "labelExpr": "datum.label == 'k1' ? 'num :  kτ = 1e + 05 Pa/m' : datum.label == 'k2' ? 'num :  kτ = 1e + 04 Pa/m' : datum.label == 'k3' ? 'num :  kτ = 3e + 03 Pa/m' : datum.label == 'k4' ? 'num :  kτ = 2e + 02 Pa/m' : datum.label == 'ana' ? 'ana {pile+soil}' : 'ana soil'"}}
  },
  "layer": [
    {"transform": [{"filter": "indexof(['k1','k2','k3','k4'], datum.s) >= 0"}], "mark": {"type": "line", "strokeDash": [7, 5], "strokeWidth": 1.3, "clip": true}},
    {"transform": [{"filter": "datum.s == 'k1'"}], "mark": {"type": "point", "shape": "M0,-1.15L0.8,0L0,1.15L-0.8,0Z", "filled": false, "size": 42, "strokeWidth": 1.2, "clip": true}},
    {"transform": [{"filter": "datum.s == 'k2'"}], "mark": {"type": "point", "shape": "M-1,-1L1,1M-1,1L1,-1", "filled": false, "size": 26, "strokeWidth": 1.3, "clip": true}},
    {"transform": [{"filter": "datum.s == 'k3'"}], "mark": {"type": "point", "shape": "triangle-up", "filled": false, "size": 58, "strokeWidth": 1.2, "clip": true}},
    {"transform": [{"filter": "datum.s == 'k4'"}], "mark": {"type": "point", "shape": "square", "filled": false, "size": 45, "strokeWidth": 1.2, "clip": true}},
    {"transform": [{"filter": "datum.s == 'ana' || datum.s == 'soil'"}], "mark": {"type": "line", "strokeWidth": 1.5, "clip": true}},
    {"transform": [{"filter": "datum.f < -1"}], "mark": {"type": "point", "filled": false},
     "encoding": {"shape": {"field": "s", "type": "nominal", "scale": {"domain": ["k1", "k2", "k3", "k4", "ana", "soil"], "range": ["M-4.5,0H-3M-2.2,0H-0.75M0,-0.95L0.7,0L0,0.95L-0.7,0ZM0.75,0H2.2M3,0H4M4.4,0H4.6", "M-4.5,0H-3M-2.2,0H-0.6M-0.55,-0.55L0.55,0.55M-0.55,0.55L0.55,-0.55M0.6,0H2.2M3,0H4M4.4,0H4.6", "M-4.5,0H-3M-2.2,0H-0.8M0,-0.9L0.8,0.55L-0.8,0.55ZM0.8,0H2.2M3,0H4M4.4,0H4.6", "M-4.5,0H-3M-2.2,0H-0.65M-0.65,-0.65H0.65V0.65H-0.65ZM0.65,0H2.2M3,0H4M4.4,0H4.6", "M-4.5,0H4.6", "M-4.5,0H4.6"]}, "legend": {"title": null, "orient": "top-right", "labelExpr": "datum.label == 'k1' ? 'num :  kτ = 1e + 05 Pa/m' : datum.label == 'k2' ? 'num :  kτ = 1e + 04 Pa/m' : datum.label == 'k3' ? 'num :  kτ = 3e + 03 Pa/m' : datum.label == 'k4' ? 'num :  kτ = 2e + 02 Pa/m' : datum.label == 'ana' ? 'ana {pile+soil}' : 'ana soil'"}}}}
  ]
 }]
}
]
}
